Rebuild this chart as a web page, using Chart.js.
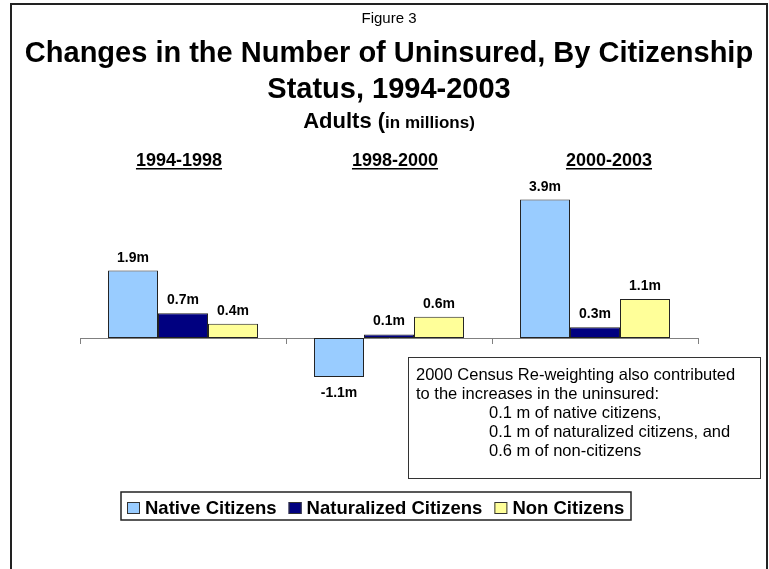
<!DOCTYPE html>
<html>
<head>
<meta charset="utf-8">
<script src="https://cdn.jsdelivr.net/npm/chart.js@4.4.1/dist/chart.umd.min.js"></script>
<style>
  html, body { margin: 0; padding: 0; background: #fff; }
  #wrap { width: 769px; height: 569px; position: relative; }
</style>
</head>
<body>
<div id="wrap"><canvas id="chart"></canvas></div>
<script>
const periods = ['1994-1998', '1998-2000', '2000-2003'];
const seriesNames = ['Native Citizens', 'Naturalized Citizens', 'Non Citizens'];
const nativeCitizens = [1.9, -1.1, 3.9];
const naturalizedCitizens = [0.7, 0.1, 0.3];
const nonCitizens = [0.4, 0.6, 1.1];
const noteLines = [
  '2000 Census Re-weighting also contributed',
  'to the increases in the uninsured:',
  '0.1 m of native citizens,',
  '0.1 m of naturalized citizens, and',
  '0.6 m of non-citizens'
];

const FONT = '"Liberation Sans", Arial, sans-serif';
const colors = ['#99CCFF', '#000080', '#FFFF99'];

// titles, period headers, note box, legend and outer frame
const decor = {
  id: 'decor',
  afterDatasetsDraw(chart) {
    const ctx = chart.ctx;
    ctx.save();
    ctx.fillStyle = '#000';
    ctx.textBaseline = 'alphabetic';

    // value labels on bars
    ctx.font = `bold 14px ${FONT}`;
    ctx.textAlign = 'center';
    chart.data.datasets.forEach((ds, di) => {
      const meta = chart.getDatasetMeta(di);
      meta.data.forEach((bar, i) => {
        const v = ds.data[i];
        const y = v >= 0 ? bar.y - 9 : bar.y + 20;
        ctx.fillText(v.toFixed(1) + 'm', bar.x, y);
      });
    });
    ctx.restore();
  },
  afterDraw(chart) {
    const ctx = chart.ctx;
    ctx.save();
    ctx.fillStyle = '#000';
    ctx.textAlign = 'center';
    ctx.textBaseline = 'alphabetic';

    ctx.strokeStyle = '#222';
    ctx.lineWidth = 2;
    ctx.strokeRect(11, 4, 756, 700);

    ctx.font = `15px ${FONT}`;
    ctx.fillText('Figure 3', 389, 23);
    ctx.font = `bold 29px ${FONT}`;
    ctx.fillText('Changes in the Number of Uninsured, By Citizenship', 389, 62);
    ctx.fillText('Status, 1994-2003', 389, 98);

    // subtitle with two sizes
    ctx.textAlign = 'left';
    const a = 'Adults (', b = 'in millions)';
    ctx.font = `bold 22px ${FONT}`;
    const wa = ctx.measureText(a).width;
    ctx.font = `bold 17px ${FONT}`;
    const wb = ctx.measureText(b).width;
    let sx = 389 - (wa + wb) / 2;
    ctx.font = `bold 22px ${FONT}`;
    ctx.fillText(a, sx, 128);
    ctx.font = `bold 17px ${FONT}`;
    ctx.fillText(b, sx + wa, 128);

    // period headers, underlined
    const xs = chart.scales.x;
    const nudge = [-4, 6, 14];
    ctx.textAlign = 'center';
    ctx.font = `bold 18px ${FONT}`;
    chart.data.labels.forEach((lab, i) => {
      const cx = xs.getPixelForValue(i) + nudge[i];
      const w = ctx.measureText(lab).width;
      ctx.fillText(lab, cx, 166);
      ctx.fillRect(cx - w / 2, 168, w, 1.5);
    });

    // note box
    ctx.fillStyle = '#fff';
    ctx.fillRect(408.5, 357.5, 352, 121);
    ctx.strokeStyle = '#333';
    ctx.lineWidth = 1;
    ctx.strokeRect(408.5, 357.5, 352, 121);
    ctx.fillStyle = '#000';
    ctx.textAlign = 'left';
    ctx.font = `16.5px ${FONT}`;
    noteLines.forEach((line, i) => {
      const x = i < 2 ? 416 : 489;
      ctx.fillText(line, x, 379.5 + i * 19.2);
    });

    // legend
    ctx.strokeStyle = '#222';
    ctx.lineWidth = 1.5;
    ctx.strokeRect(121, 492, 510, 28);
    ctx.font = `bold 18.5px ${FONT}`;
    let lx = 127;
    chart.data.datasets.forEach((ds) => {
      ctx.fillStyle = ds.backgroundColor;
      ctx.fillRect(lx, 502, 13, 12);
      ctx.strokeStyle = '#333';
      ctx.lineWidth = 1;
      ctx.strokeRect(lx + 0.5, 502.5, 12, 11);
      ctx.fillStyle = '#000';
      ctx.fillText(ds.label, lx + 18, 513.5);
      lx += 18 + ctx.measureText(ds.label).width + 12;
    });
    ctx.restore();
  }
};

new Chart(document.getElementById('chart'), {
  type: 'bar',
  data: {
    labels: periods,
    datasets: [
      { label: seriesNames[0], data: nativeCitizens, backgroundColor: colors[0] },
      { label: seriesNames[1], data: naturalizedCitizens, backgroundColor: colors[1] },
      { label: seriesNames[2], data: nonCitizens, backgroundColor: colors[2] }
    ].map(d => Object.assign(d, {
      borderColor: '#222',
      borderWidth: 1,
      borderSkipped: false,
      categoryPercentage: 0.728,
      barPercentage: 1
    }))
  },
  options: {
    responsive: true,
    maintainAspectRatio: false,
    animation: false,
    layout: { padding: { left: 80, right: 71, top: 160.5, bottom: 160 } },
    plugins: {
      legend: { display: false },
      title: { display: false },
      tooltip: { enabled: false }
    },
    scales: {
      x: {
        position: { y: 0 },
        ticks: { display: false },
        grid: { drawOnChartArea: false, tickLength: 5, color: '#808080', offset: true },
        border: { display: true, color: '#808080', width: 1 }
      },
      y: {
        display: false,
        min: -2,
        max: 5
      }
    }
  },
  plugins: [decor]
});
</script>
</body>
</html>
